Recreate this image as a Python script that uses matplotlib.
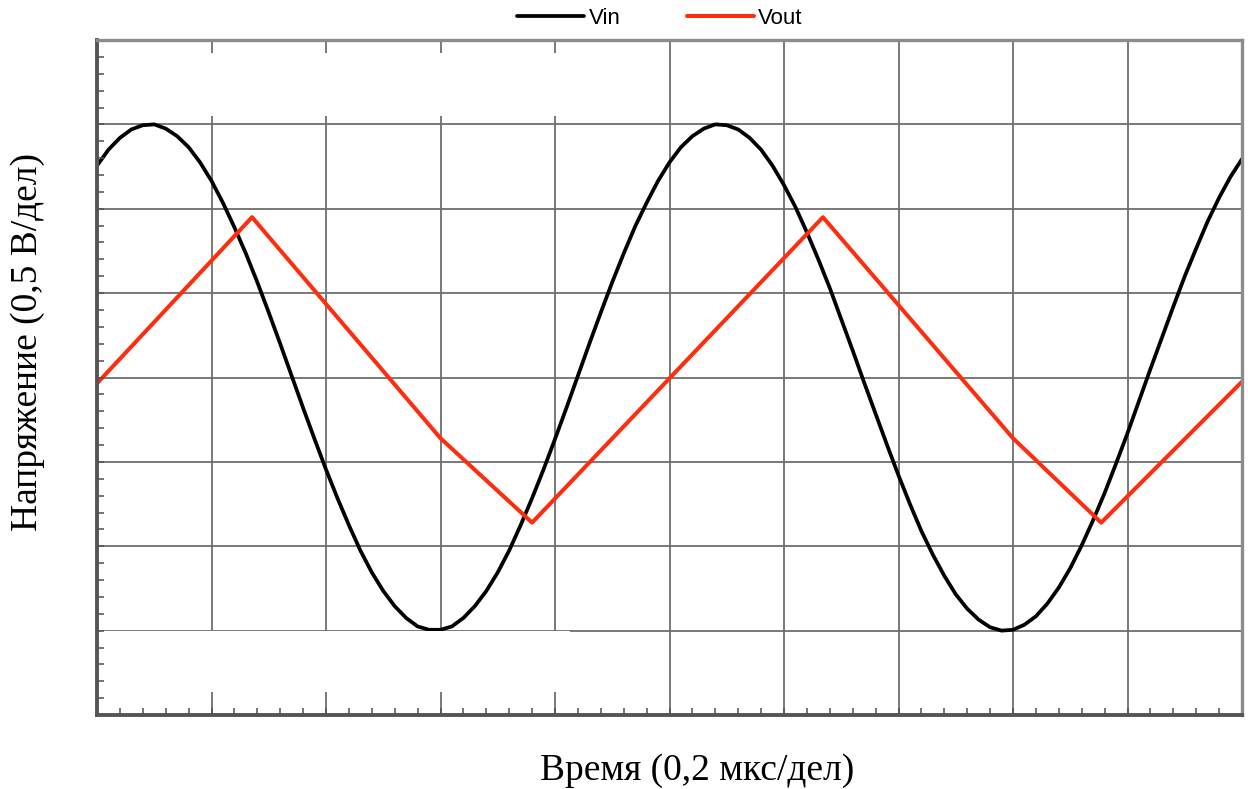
import numpy as np
import matplotlib.pyplot as plt
from matplotlib.patches import Rectangle

# time axis in divisions (0.2 us/div), voltages in divisions (0.5 V/div)
t_in = np.round(np.arange(0, 10.01, 0.1), 1)
v_in = [2.51, 2.70, 2.84, 2.94, 2.99, 3.00, 2.95, 2.86, 2.73, 2.55,
        2.33, 2.07, 1.78, 1.47, 1.13, 0.77, 0.40, 0.02, -0.36, -0.73,
        -1.09, -1.43, -1.75, -2.05, -2.31, -2.53, -2.71, -2.85, -2.95, -2.99,
        -2.99, -2.95, -2.85, -2.71, -2.53, -2.31, -2.05, -1.75, -1.43, -1.09,
        -0.73, -0.36, 0.02, 0.40, 0.77, 1.13, 1.47, 1.79, 2.07, 2.33,
        2.55, 2.73, 2.86, 2.95, 3.00, 2.99, 2.94, 2.84, 2.70, 2.51,
        2.28, 2.02, 1.72, 1.40, 1.06, 0.69, 0.32, -0.06, -0.43, -0.80,
        -1.16, -1.50, -1.82, -2.10, -2.35, -2.57, -2.74, -2.87, -2.96, -3.00,
        -2.99, -2.93, -2.83, -2.68, -2.49, -2.26, -1.99, -1.69, -1.37, -1.02,
        -0.66, -0.28, 0.10, 0.47, 0.84, 1.20, 1.53, 1.85, 2.13, 2.38,
        2.59]

t_out = [0.0, 1.354, 3.0, 3.80, 6.34, 8.0, 8.77, 10.0]
v_out = [-0.07, 1.90, -0.72, -1.72, 1.90, -0.72, -1.72, -0.05]

n_xdiv = 10
n_ydiv = 8

fig = plt.figure(figsize=(12.48, 7.89), dpi=100)
ax = fig.add_axes([97 / 1248, 1 - 715 / 789, (1242 - 97) / 1248, (715 - 40) / 789])
ax.set_xlim(0, n_xdiv)
ax.set_ylim(-n_ydiv / 2, n_ydiv / 2)

# scope graticule
for gx in range(1, n_xdiv):
    ax.axvline(gx, color='#6e6e6e', lw=1.3, zorder=1)
for gy in range(-n_ydiv // 2 + 1, n_ydiv // 2):
    ax.axhline(gy, color='#6e6e6e', lw=1.3, zorder=1)

ax.plot(t_in, v_in, color='black', lw=2.7, label='Vin', zorder=2,
        solid_joinstyle='round', solid_capstyle='round')
ax.plot(t_out, v_out, color='#ff2d0f', lw=2.9, label='Vout', zorder=2,
        solid_joinstyle='round', solid_capstyle='round')

# blank label areas on the screen
ax.add_patch(Rectangle((0.03, 3.10), 4.5, 0.75, facecolor='white',
                       edgecolor='none', zorder=3))
ax.add_patch(Rectangle((0.03, -3.73), 4.1, 0.725, facecolor='white',
                       edgecolor='none', zorder=3))

ax.set_xticks([])
ax.set_yticks([])
ax.set_xticks(np.arange(0, n_xdiv + 0.01, 0.2), minor=True)
ax.set_yticks(np.arange(-4, 4.01, 0.2), minor=True)
ax.tick_params(which='minor', direction='in', length=5, width=1.1,
               color='#505050', labelbottom=False, labelleft=False)
ax.xaxis.set_zorder(4)
ax.yaxis.set_zorder(4)

for side in ['top', 'right']:
    ax.spines[side].set_color('#8c8c8c')
    ax.spines[side].set_linewidth(2.4)
for side in ['left', 'bottom']:
    ax.spines[side].set_color('#555555')
    ax.spines[side].set_linewidth(2.8)
for sp in ax.spines.values():
    sp.set_zorder(5)

fig.legend(loc='center', bbox_to_anchor=(660 / 1248, 1 - 18 / 789), ncol=2,
           frameon=False, prop={'family': 'Liberation Sans', 'size': 16},
           handlelength=3.0, handletextpad=0.2, columnspacing=3.0)

fig.text(28 / 1248, 1 - 342 / 789, 'Напряжение (0,5 В/дел)', rotation=90,
         ha='center', va='center', family='Liberation Serif', fontsize=27)
fig.text(697 / 1248, 9 / 789, 'Время (0,2 мкс/дел)', ha='center',
         va='baseline', family='Liberation Serif', fontsize=27)

fig.savefig('out.png', dpi=100, facecolor='white')
